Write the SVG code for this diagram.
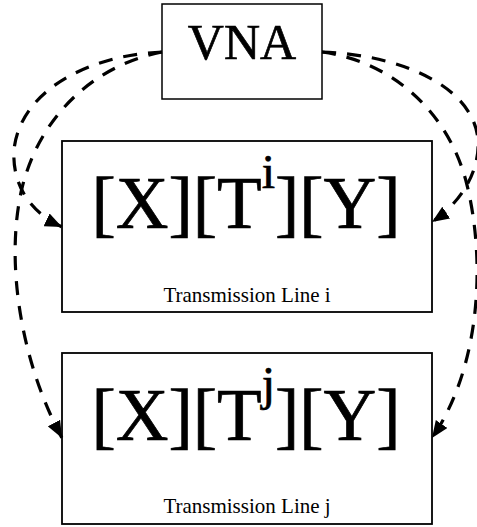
<svg xmlns="http://www.w3.org/2000/svg" width="477" height="527" viewBox="0 0 477 527">
  <style>
    .box { fill: #ffffff; stroke: #000000; }
    .serif { font-family: "Liberation Serif", "Times New Roman", serif; fill: #000000; }
    .heavy { stroke: #000000; stroke-width: 0.7; }
    .link { fill: none; stroke: #000000; stroke-width: 3.2; stroke-dasharray: 14 11; }
  </style>
  <defs>
    <marker id="arrow" markerUnits="userSpaceOnUse" markerWidth="18" markerHeight="14" refX="17" refY="7" orient="auto">
      <path d="M0,0 L17,7 L0,14 z" fill="#000000"/>
    </marker>
  </defs>

  <!-- network analyzer -->
  <g id="vna">
    <rect class="box" x="162" y="4" width="160" height="95" stroke-width="1.5"/>
    <text class="serif heavy" x="242" y="59" font-size="50" text-anchor="middle">VNA</text>
  </g>

  <!-- line i -->
  <g id="line-i">
    <rect class="box" x="62" y="141" width="370" height="171" stroke-width="1.8"/>
    <text class="serif heavy" x="246" y="228" font-size="73" text-anchor="middle">[X][T<tspan font-size="48" dy="-40">i</tspan><tspan dy="40">][Y]</tspan></text>
    <text class="serif" x="247" y="302" font-size="21" text-anchor="middle">Transmission Line i</text>
  </g>

  <!-- line j -->
  <g id="line-j">
    <rect class="box" x="62" y="353" width="370" height="171" stroke-width="1.8"/>
    <text class="serif heavy" x="246" y="440" font-size="73" text-anchor="middle">[X][T<tspan font-size="48" dy="-40">j</tspan><tspan dy="40">][Y]</tspan></text>
    <text class="serif" x="247" y="513" font-size="21" text-anchor="middle">Transmission Line j</text>
  </g>

  <!-- measurement connections -->
  <g id="connectors">
    <path class="link" d="M162,52 C90,55 20,90 14,150 C12,185 30,212 62,227" marker-end="url(#arrow)"/>
    <path class="link" d="M162,52 C95,65 40,115 22,188 C5,260 20,360 62,438" marker-end="url(#arrow)"/>
    <path class="link" d="M322,52 C404,55 474,88 478,140 C480,170 462,202 432,222" marker-end="url(#arrow)"/>
    <path class="link" d="M322,52 C395,62 450,115 467,185 C485,258 482,365 432,438" marker-end="url(#arrow)"/>
  </g>
</svg>
